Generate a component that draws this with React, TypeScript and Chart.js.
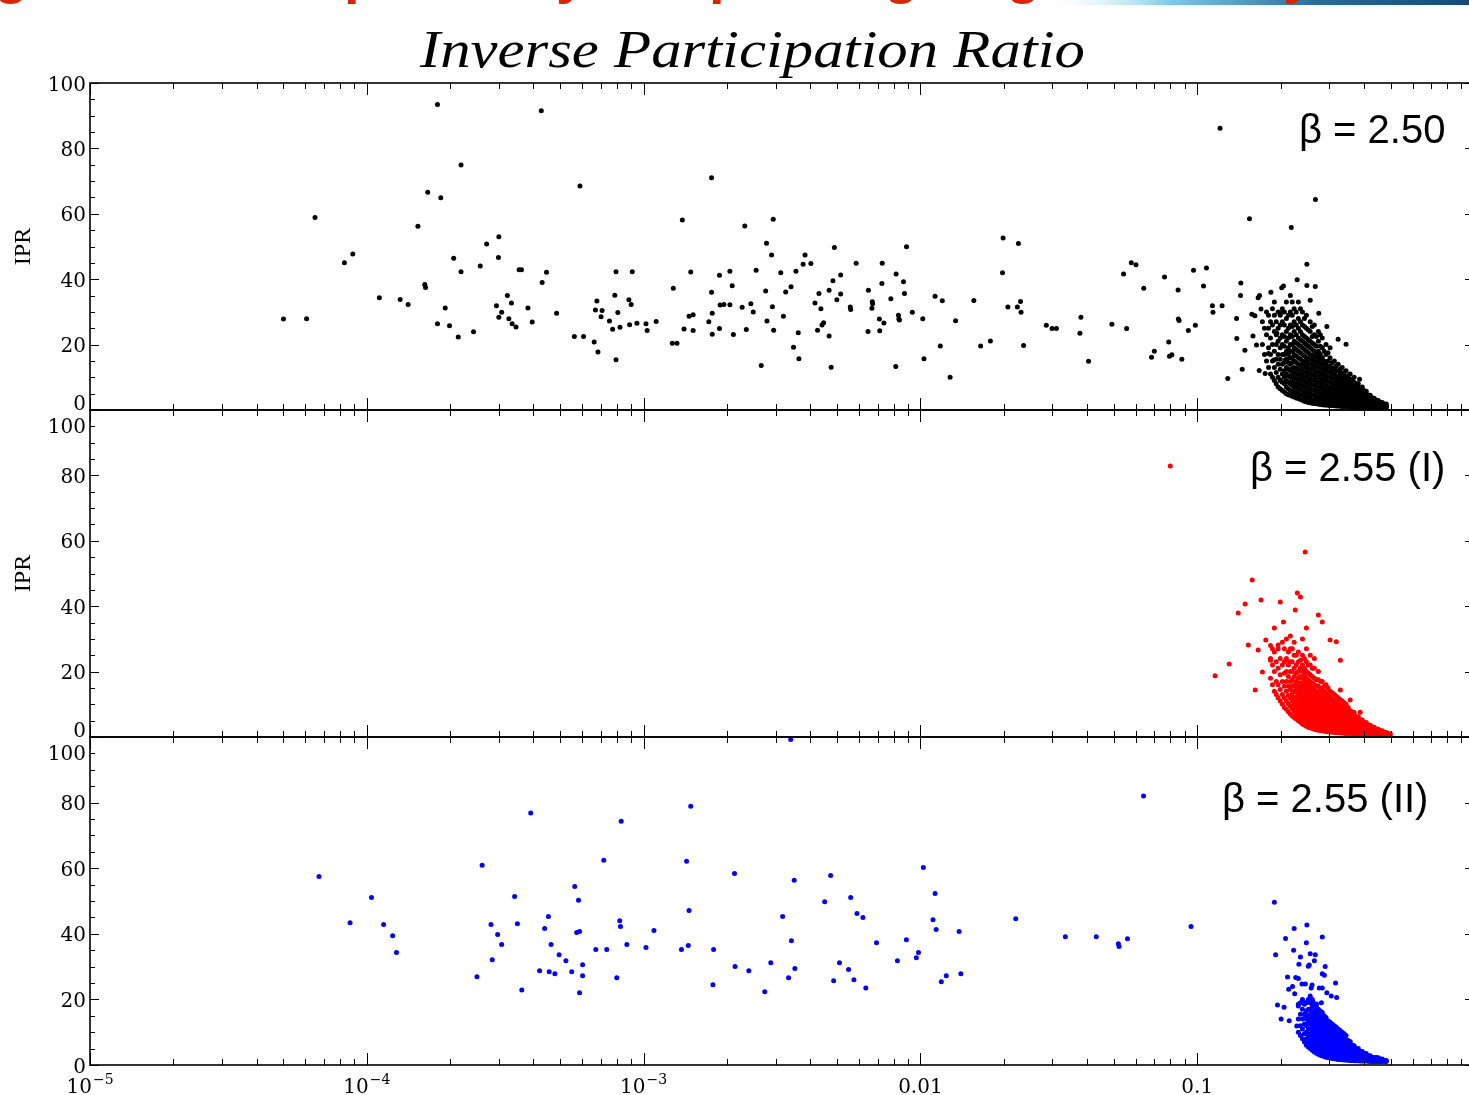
import { useEffect, useRef } from 'react';
import { Chart, registerables } from 'chart.js';
Chart.register(...registerables);

// ---------------- DATA ----------------
const xTickValues = [1e-5, 1e-4, 1e-3, 0.01, 0.1];
const xTickLabels: [string, string][] = [['10', '−5'], ['10', '−4'], ['10', '−3'], ['0.01', ''], ['0.1', '']];
const yTickValues = [0, 20, 40, 60, 80, 100];
const panelLabels = ['β = 2.50', 'β = 2.55 (I)', 'β = 2.55 (II)'];
const titleText = 'Inverse Participation Ratio';
const yAxisTitle = 'IPR';

const blackScatter: [number, number][] = [
  [5.0e-5, 27.8], [6.06e-5, 27.9], [6.5e-5, 58.9], [8.3e-5, 45.0], [8.9e-5, 47.7], [1.11e-4, 34.3], [1.32e-4, 33.8],
  [1.41e-4, 32.3], [1.53e-4, 56.2], [1.62e-4, 38.4], [1.63e-4, 37.5], [1.66e-4, 66.6], [1.80e-4, 93.4], [1.80e-4, 26.4],
  [1.85e-4, 64.9], [1.92e-4, 31.2], [1.99e-4, 25.8], [2.06e-4, 46.4], [2.14e-4, 22.3], [2.19e-4, 42.3], [2.19e-4, 74.9],
  [2.43e-4, 23.9], [2.57e-4, 44.0], [2.71e-4, 50.8], [2.94e-4, 31.9], [2.99e-4, 46.6], [3.0e-4, 53.0], [3.0e-4, 28.4],
  [3.07e-4, 29.9], [3.22e-4, 35.0], [3.26e-4, 27.9], [3.33e-4, 32.7], [3.35e-4, 26.4], [3.46e-4, 25.4], [3.55e-4, 42.9],
  [3.62e-4, 42.9], [3.82e-4, 31.2], [3.96e-4, 26.9], [4.27e-4, 91.5], [4.30e-4, 39.0], [4.46e-4, 42.1], [4.85e-4, 29.6],
  [5.62e-4, 22.5], [5.89e-4, 68.5], [6.07e-4, 22.5], [6.63e-4, 20.8], [6.7e-4, 30.6], [6.78e-4, 33.3], [6.84e-4, 17.7],
  [7.02e-4, 28.5], [7.08e-4, 30.4], [7.53e-4, 27.2], [7.73e-4, 24.7], [7.87e-4, 35.1], [7.95e-4, 42.3], [7.95e-4, 15.4],
  [8.07e-4, 29.8], [8.22e-4, 25.3], [8.85e-4, 33.7], [8.9e-4, 26.1], [9.02e-4, 32.3], [9.1e-4, 42.3], [9.46e-4, 26.5],
  [1.02e-3, 26.4], [1.03e-3, 24.3], [1.11e-3, 27.1], [1.27e-3, 20.4], [1.32e-3, 20.4], [1.28e-3, 37.2], [1.38e-3, 58.1],
  [1.40e-3, 24.8], [1.46e-3, 28.7], [1.48e-3, 42.2], [1.51e-3, 29.1], [1.51e-3, 24.3], [1.72e-3, 27.0], [1.76e-3, 71.0],
  [1.76e-3, 36.0], [1.77e-3, 29.6], [1.77e-3, 23.2], [1.88e-3, 24.9], [1.88e-3, 41.2], [1.89e-3, 32.1], [1.95e-3, 32.3],
  [2.05e-3, 32.2], [2.05e-3, 42.4], [2.09e-3, 38.0], [2.11e-3, 23.1], [2.27e-3, 31.4], [2.32e-3, 56.3], [2.35e-3, 24.6],
  [2.44e-3, 32.5], [2.49e-3, 30.0], [2.55e-3, 42.7], [2.66e-3, 13.6], [2.76e-3, 36.4], [2.78e-3, 51.0], [2.79e-3, 27.2],
  [2.90e-3, 47.4], [2.92e-3, 31.6], [2.94e-3, 58.3], [2.95e-3, 24.4], [3.13e-3, 42.0], [3.2e-3, 28.7], [3.26e-3, 36.1],
  [3.41e-3, 37.7], [3.48e-3, 19.2], [3.55e-3, 42.4], [3.62e-3, 23.6], [3.64e-3, 15.7], [3.77e-3, 44.6], [3.83e-3, 47.4],
  [4.02e-3, 44.8], [4.16e-3, 32.7], [4.25e-3, 24.4], [4.30e-3, 35.6], [4.37e-3, 31.0], [4.41e-3, 26.0], [4.47e-3, 26.7],
  [4.68e-3, 36.6], [4.68e-3, 22.6], [4.76e-3, 13.1], [4.83e-3, 39.5], [4.89e-3, 49.7], [4.99e-3, 33.7], [5.15e-3, 35.5],
  [5.15e-3, 41.3], [5.58e-3, 31.5], [5.6e-3, 30.7], [5.86e-3, 44.9], [6.47e-3, 24.0], [6.49e-3, 36.6], [6.68e-3, 31.1],
  [6.7e-3, 33.1], [6.72e-3, 32.5], [7.11e-3, 27.8], [7.13e-3, 24.2], [7.26e-3, 38.7], [7.28e-3, 44.9], [7.38e-3, 26.6],
  [7.82e-3, 34.0], [8.15e-3, 13.3], [8.17e-3, 41.6], [8.33e-3, 29.0], [8.36e-3, 27.8], [8.4e-3, 27.5], [8.69e-3, 39.2],
  [8.76e-3, 35.6], [8.91e-3, 49.9], [9.35e-3, 29.9], [1.02e-2, 27.9], [1.03e-2, 15.7], [1.13e-2, 34.8], [1.18e-2, 19.6],
  [1.20e-2, 33.4], [1.28e-2, 10.0], [1.34e-2, 27.3], [1.56e-2, 33.5], [1.65e-2, 19.6], [1.79e-2, 21.1], [1.98e-2, 42.0],
  [1.99e-2, 52.6], [2.07e-2, 31.5], [2.24e-2, 31.5], [2.26e-2, 50.9], [2.30e-2, 33.2], [2.31e-2, 29.9], [2.36e-2, 19.7],
  [2.85e-2, 25.9], [2.99e-2, 24.9], [3.10e-2, 24.9], [3.77e-2, 23.5], [3.8e-2, 28.4], [4.05e-2, 14.9], [4.92e-2, 26.2],
  [5.56e-2, 24.9], [5.42e-2, 41.6], [5.78e-2, 45.0], [6.01e-2, 44.4], [6.41e-2, 37.2], [6.84e-2, 16.1], [7.0e-2, 18.0],
  [7.62e-2, 40.7], [7.89e-2, 20.8], [7.94e-2, 16.4], [8.1e-2, 16.9], [8.53e-2, 36.7], [8.55e-2, 27.8], [8.6e-2, 27.4],
  [8.8e-2, 15.5], [9.29e-2, 24.3], [9.7e-2, 42.7], [9.85e-2, 25.9],
  [0.121, 86.2], [0.1054, 37.9], [0.108, 43.4], [0.1135, 31.9], [0.114, 29.9], [0.123, 31.9], [0.129, 9.6], [0.1387, 28.0],
  [0.139, 21.9], [0.1438, 38.8], [0.1434, 35.0], [0.1454, 12.5], [0.1487, 18.3], [0.1545, 58.5], [0.1576, 29.3],
  [0.1616, 28.8], [0.159, 22.6], [0.1638, 19.9], [0.1675, 12.1], [0.166, 34.3], [0.168, 35.0], [0.170, 30.9], [0.1846, 36.0],
  [0.202, 37.4], [0.205, 37.9], [0.2187, 55.8], [0.2297, 39.8], [0.249, 44.6], [0.2674, 64.4], [0.249, 38.1], [0.267, 37.8],
  [0.256, 33.6], [0.323, 21.6], [0.345, 20.1], [0.386, 9.4], [0.294, 25.5], [0.275, 29.6], [0.1995, 29.6], [0.194, 23.5],
  [0.189, 15.3], [0.181, 17.3], [0.176, 11.2], [0.1995, 9.2], [0.208, 15.3],
];

// dense core: [x, IPR values at that x]
const blackCloud: [number, number[]][] = [
  [0.172, [20, 27]],
  [0.178, [15, 23, 30]],
  [0.184, [11, 17, 22, 27]],
  [0.190, [9, 13, 18, 24, 29, 33]],
  [0.196, [7, 10, 14, 17, 21, 25, 30]],
  [0.203, [6, 8.5, 11, 14, 17, 20, 23, 27, 31]],
  [0.210, [5, 7, 9, 11, 13, 15.5, 18, 21, 24, 28, 33]],
  [0.217, [4.5, 6, 8, 10, 12, 14, 16, 18, 20, 23, 26, 30, 35]],
  [0.224, [4, 5.5, 7, 8.5, 10, 11.5, 13, 15, 17, 19, 21, 24, 27, 31]],
  [0.232, [3.5, 5, 6.5, 8, 9.5, 11, 12.5, 14, 16, 18, 20, 22, 25, 28, 33]],
  [0.240, [3, 4.5, 6, 7.5, 9, 10.5, 12, 13.5, 15, 17, 19, 21, 23, 26, 30]],
  [0.248, [2.5, 4, 5.5, 7, 8.5, 10, 11.5, 13, 14.5, 16, 18, 20, 22, 25, 29]],
  [0.256, [2.2, 3.5, 5, 6.5, 8, 9.5, 11, 12.5, 14, 15.5, 17, 19, 21, 24, 27]],
  [0.265, [2, 3, 4.5, 6, 7.5, 9, 10.5, 12, 13.5, 15, 16.5, 18, 20, 23, 26]],
  [0.274, [1.8, 2.8, 4, 5.5, 7, 8.5, 10, 11.5, 13, 14.5, 16, 18, 21, 24]],
  [0.283, [1.6, 2.5, 3.7, 5, 6.5, 8, 9.5, 11, 12.5, 14, 16, 19, 22]],
  [0.292, [1.5, 2.3, 3.4, 4.6, 6, 7.5, 9, 10.5, 12, 14, 17, 20]],
  [0.302, [1.4, 2.1, 3.1, 4.3, 5.6, 7, 8.5, 10, 11.5, 13.5, 16, 19]],
  [0.313, [1.3, 2, 2.9, 4, 5.2, 6.5, 8, 9.5, 11, 13, 15]],
  [0.323, [1.2, 1.9, 2.7, 3.7, 4.8, 6, 7.3, 8.7, 10.2, 12, 14]],
  [0.334, [1.1, 1.8, 2.5, 3.4, 4.4, 5.5, 6.7, 8, 9.5, 11, 13]],
  [0.345, [1.1, 1.7, 2.4, 3.2, 4.1, 5, 6.1, 7.3, 8.6, 10, 12]],
  [0.357, [1, 1.6, 2.2, 3, 3.8, 4.7, 5.7, 6.8, 8, 9.5, 11]],
  [0.369, [1, 1.5, 2.1, 2.8, 3.5, 4.3, 5.2, 6.2, 7.3, 8.5, 10]],
  [0.382, [0.9, 1.4, 2, 2.6, 3.3, 4, 4.8, 5.7, 6.7, 8]],
  [0.395, [0.9, 1.4, 1.9, 2.5, 3.1, 3.7, 4.4, 5.2, 6.2, 7]],
  [0.408, [0.8, 1.3, 1.8, 2.3, 2.9, 3.5, 4.1, 4.8, 5.7]],
  [0.422, [0.8, 1.3, 1.7, 2.2, 2.7, 3.2, 3.8, 4.5]],
  [0.436, [0.8, 1.2, 1.6, 2, 2.5, 3, 3.6]],
  [0.451, [0.7, 1.2, 1.6, 2, 2.4, 2.9]],
  [0.466, [0.7, 1.1, 1.5, 1.9, 2.3]],
  [0.482, [0.7, 1.0, 1.4, 1.8]],
  [0.175, [17, 25]],
  [0.181, [13, 19, 25, 29]],
  [0.187, [10, 15, 20, 26, 31]],
  [0.193, [8, 11.5, 15.5, 20, 23, 27]],
  [0.1995, [6.5, 9, 12.5, 15.5, 19, 22, 26, 29]],
  [0.2065, [5.5, 8, 10, 12, 14.5, 17, 19.5, 22.5, 26, 30]],
  [0.2135, [4.7, 6.5, 8.5, 10.5, 12.5, 14.5, 17, 19, 22, 25, 29]],
  [0.2205, [4.2, 5.7, 7.5, 9, 11, 12.7, 14.5, 16, 18, 20, 22.5, 25.5, 29, 33]],
  [0.228, [3.7, 5.2, 6.7, 8.2, 9.7, 11.2, 12.7, 14.5, 16.5, 18.5, 20.5, 23, 26, 30]],
  [0.236, [3.2, 4.7, 6.2, 7.7, 9.2, 10.7, 12.2, 13.7, 15.5, 17.5, 19.5, 21.5, 24, 27, 31]],
  [0.244, [2.7, 4.2, 5.7, 7.2, 8.7, 10.2, 11.7, 13.2, 14.7, 16.5, 18.5, 20.5, 22.5, 25.5, 28]],
  [0.252, [2.3, 3.7, 5.2, 6.7, 8.2, 9.7, 11.2, 12.7, 14.2, 15.7, 17.5, 19.5, 21.5, 24.5]],
  [0.2605, [2.1, 3.2, 4.7, 6.2, 7.7, 9.2, 10.7, 12.2, 13.7, 15.2, 16.7, 18.5, 20.5, 22.5, 25.5]],
  [0.2695, [1.9, 2.9, 4.2, 5.7, 7.2, 8.7, 10.2, 11.7, 13.2, 14.7, 16.2, 17.5, 19.5, 22.5]],
  [0.2785, [1.7, 2.6, 3.8, 5.2, 6.7, 8.2, 9.7, 11.2, 12.7, 14.2, 15.5, 17, 19.5, 23]],
  [0.2875, [1.55, 2.4, 3.5, 4.8, 6.2, 7.7, 9.2, 10.7, 12.2, 13.5, 15, 18]],
  [0.297, [1.45, 2.2, 3.2, 4.4, 5.8, 7.2, 8.7, 10.2, 11.7, 13, 15, 17.5]],
  [0.3075, [1.35, 2.05, 3, 4.1, 5.4, 6.7, 8.2, 9.7, 11.2, 12.5, 14.5]],
  [0.318, [1.25, 1.95, 2.8, 3.85, 5, 6.2, 7.6, 9, 10.5, 12, 13.5]],
  [0.3285, [1.15, 1.85, 2.6, 3.55, 4.6, 5.7, 7, 8.3, 9.8, 11.3, 12.5]],
  [0.3395, [1.1, 1.75, 2.45, 3.3, 4.25, 5.25, 6.4, 7.6, 9, 10.3, 11.5]],
  [0.351, [1.05, 1.65, 2.3, 3.1, 3.95, 4.85, 5.9, 7, 8.3, 9.7, 10.5]],
  [0.363, [1, 1.55, 2.15, 2.9, 3.65, 4.5, 5.45, 6.5, 7.6, 9]],
  [0.3755, [0.95, 1.45, 2.05, 2.7, 3.4, 4.15, 5, 5.95, 7, 8]],
  [0.3885, [0.9, 1.4, 1.95, 2.55, 3.2, 3.85, 4.6, 5.45, 6.4]],
  [0.4015, [0.85, 1.35, 1.85, 2.4, 3, 3.6, 4.25, 5, 5.9]],
  [0.415, [0.8, 1.3, 1.75, 2.25, 2.8, 3.35, 3.95, 4.6]],
  [0.429, [0.8, 1.25, 1.65, 2.1, 2.6, 3.1, 3.7]],
  [0.4435, [0.75, 1.2, 1.6, 2, 2.45, 2.95]],
  [0.4585, [0.7, 1.15, 1.55, 1.95, 2.35]],
  [0.474, [0.7, 1.05, 1.45, 1.85]],
];

const redScatter: [number, number][] = [
  [0.0799, 82.9], [0.116, 18.7], [0.1305, 22.3], [0.1406, 37.9], [0.149, 40.7], [0.158, 48.0], [0.170, 41.9],
  [0.1995, 41.3], [0.230, 44.0], [0.236, 42.8], [0.2455, 56.6], [0.205, 35.2], [0.19, 33.3], [0.177, 29.7],
  [0.166, 26.6], [0.184, 23.5], [0.172, 19.9], [0.196, 28.1], [0.217, 30.9], [0.248, 33.3], [0.274, 37.3],
  [0.283, 35.2], [0.302, 29.7], [0.318, 29.1], [0.329, 23.5], [0.329, 14.4], [0.357, 11.3], [0.388, 7.6],
  [0.162, 14.4], [0.153, 28.1], [0.21, 23.5], [0.226, 38.8],
];

const redCloud: [number, number[]][] = [
  [0.184, [18, 24, 28]],
  [0.190, [14, 20, 26]],
  [0.196, [12, 16, 21, 27]],
  [0.203, [10, 13, 17, 22, 29]],
  [0.210, [8.5, 11, 14, 17, 20, 24, 30]],
  [0.217, [7, 9.5, 12, 14.5, 17, 20, 23, 27]],
  [0.224, [6, 8, 10, 12, 14, 16, 18.5, 21, 25, 29]],
  [0.232, [5, 6.5, 8, 9.5, 11, 12.5, 14, 16, 18, 20, 23, 26]],
  [0.240, [4, 5.5, 7, 8.5, 10, 11.5, 13, 14.5, 16, 18, 20, 22, 25, 30]],
  [0.248, [3.3, 4.7, 6, 7.5, 9, 10.5, 12, 13.5, 15, 16.5, 18, 20, 23, 27]],
  [0.256, [2.8, 4, 5.3, 6.7, 8, 9.5, 11, 12.5, 14, 15.5, 17, 19, 22, 25]],
  [0.265, [2.4, 3.5, 4.7, 6, 7.3, 8.7, 10, 11.5, 13, 14.5, 16, 18, 21, 24]],
  [0.274, [2.1, 3.1, 4.2, 5.4, 6.6, 8, 9.4, 10.8, 12.2, 13.7, 15.5, 17.5, 20]],
  [0.283, [1.9, 2.8, 3.8, 4.9, 6, 7.2, 8.5, 9.8, 11.2, 12.7, 14.5, 17]],
  [0.292, [1.7, 2.5, 3.4, 4.4, 5.5, 6.6, 7.8, 9, 10.3, 11.8, 13.5, 16]],
  [0.302, [1.5, 2.3, 3.1, 4, 5, 6, 7.1, 8.2, 9.4, 10.7, 12.2, 14]],
  [0.313, [1.4, 2.1, 2.9, 3.7, 4.6, 5.5, 6.5, 7.5, 8.6, 9.8, 11.2, 13]],
  [0.323, [1.3, 2, 2.7, 3.4, 4.2, 5, 5.9, 6.8, 7.8, 8.9, 10.2, 12]],
  [0.334, [1.2, 1.8, 2.5, 3.2, 3.9, 4.7, 5.5, 6.3, 7.2, 8.2, 9.3, 11]],
  [0.345, [1.1, 1.7, 2.3, 3, 3.6, 4.3, 5, 5.8, 6.6, 7.5, 8.5, 10]],
  [0.357, [1.1, 1.6, 2.2, 2.8, 3.4, 4, 4.7, 5.4, 6.1, 7, 8]],
  [0.369, [1, 1.5, 2.1, 2.6, 3.2, 3.8, 4.4, 5, 5.7, 6.5, 7.5]],
  [0.382, [1, 1.5, 2, 2.5, 3, 3.5, 4.1, 4.7, 5.4, 6.2]],
  [0.395, [0.9, 1.4, 1.9, 2.4, 2.9, 3.4, 3.9, 4.5, 5.2]],
  [0.408, [0.9, 1.3, 1.8, 2.3, 2.8, 3.3, 3.8, 4.4]],
  [0.422, [0.8, 1.3, 1.7, 2.2, 2.6, 3.1, 3.6]],
  [0.436, [0.8, 1.2, 1.6, 2.1, 2.5, 3]],
  [0.451, [0.8, 1.2, 1.6, 2, 2.4]],
  [0.466, [0.7, 1.1, 1.5, 1.9]],
  [0.482, [0.7, 1.1, 1.4]],
  [0.498, [0.7, 1.0]],
  [0.187, [16, 22, 27]],
  [0.193, [13, 17, 23]],
  [0.1995, [11, 14.5, 19, 24]],
  [0.2065, [9, 12, 15.5, 19.5, 23, 27]],
  [0.2135, [7.7, 10.2, 12.7, 15.5, 18.5, 22, 26]],
  [0.2205, [6.5, 8.7, 11, 13.2, 15.5, 17.5, 20, 23, 27]],
  [0.228, [5.5, 7.2, 9, 10.7, 12.2, 13.7, 15.2, 17, 19.5, 22, 25]],
  [0.236, [4.5, 6, 7.5, 9, 10.5, 12, 13.5, 15, 16.5, 18.5, 21, 23.5]],
  [0.244, [3.7, 5.1, 6.5, 8, 9.5, 11, 12.5, 14, 15.5, 17, 19, 21, 24]],
  [0.252, [3, 4.3, 5.6, 7.1, 8.5, 10, 11.5, 13, 14.5, 16, 17.5, 19.5, 22]],
  [0.2605, [2.6, 3.7, 5, 6.3, 7.6, 9, 10.5, 12, 13.5, 15, 16.5, 18.5, 21]],
  [0.2695, [2.2, 3.3, 4.4, 5.7, 7, 8.3, 9.7, 11.1, 12.6, 14.1, 15.7, 17.5]],
  [0.2785, [2, 2.9, 4, 5.1, 6.3, 7.6, 8.9, 10.3, 11.7, 13.2, 15, 17]],
  [0.2875, [1.8, 2.6, 3.6, 4.6, 5.7, 6.9, 8.1, 9.4, 10.7, 12.2, 14, 15.5]],
  [0.297, [1.6, 2.4, 3.2, 4.2, 5.2, 6.3, 7.4, 8.6, 9.8, 11.2, 12.8, 15]],
  [0.3075, [1.45, 2.2, 3, 3.85, 4.8, 5.75, 6.8, 7.85, 9, 10.2, 11.7, 13.5]],
  [0.318, [1.35, 2.05, 2.8, 3.55, 4.4, 5.25, 6.2, 7.15, 8.2, 9.35, 10.7, 12.5]],
  [0.3285, [1.25, 1.9, 2.6, 3.3, 4.05, 4.85, 5.7, 6.55, 7.5, 8.55, 9.7, 11.5]],
  [0.3395, [1.15, 1.75, 2.4, 3.1, 3.75, 4.5, 5.25, 6.05, 6.9, 7.85, 8.9, 10.5]],
  [0.351, [1.1, 1.65, 2.25, 2.9, 3.5, 4.15, 4.85, 5.6, 6.35, 7.25, 8.2, 9]],
  [0.363, [1.05, 1.55, 2.15, 2.7, 3.3, 3.9, 4.55, 5.2, 5.9, 6.75, 7.7]],
  [0.3755, [1, 1.5, 2.05, 2.55, 3.1, 3.65, 4.25, 4.85, 5.55, 6.3]],
  [0.3885, [0.95, 1.45, 1.95, 2.45, 2.95, 3.45, 4, 4.6, 5.3]],
  [0.4015, [0.9, 1.35, 1.85, 2.35, 2.85, 3.35, 3.85, 4.45]],
  [0.415, [0.85, 1.3, 1.75, 2.25, 2.7, 3.2, 3.7]],
  [0.429, [0.8, 1.25, 1.65, 2.15, 2.55, 3.05]],
  [0.4435, [0.8, 1.2, 1.6, 2.05, 2.45]],
  [0.4585, [0.75, 1.15, 1.55, 1.95]],
  [0.474, [0.7, 1.1, 1.45]],
  [0.49, [0.7, 1.05]],
];

const blueScatter: [number, number][] = [
  [6.72e-5, 57.5], [8.7e-5, 43.4], [1.04e-4, 51.1], [1.15e-4, 42.8], [1.24e-4, 39.4], [1.28e-4, 34.3], [2.50e-4, 26.9],
  [2.61e-4, 60.9], [2.81e-4, 42.8], [2.84e-4, 32.1], [2.97e-4, 39.8], [3.07e-4, 36.7], [3.42e-4, 51.4], [3.5e-4, 43.1],
  [3.63e-4, 22.9], [3.91e-4, 76.8], [4.21e-4, 28.7], [4.39e-4, 41.6], [4.53e-4, 45.3], [4.56e-4, 28.4], [4.63e-4, 36.7],
  [4.78e-4, 27.8], [4.95e-4, 33.6], [5.24e-4, 31.8], [5.5e-4, 28.4], [5.64e-4, 54.4], [5.73e-4, 40.4], [5.87e-4, 40.7],
  [5.82e-4, 50.2], [5.87e-4, 22.0], [6.02e-4, 30.6], [6.02e-4, 27.2], [6.72e-4, 35.2], [7.18e-4, 62.4], [7.36e-4, 35.2],
  [8.0e-4, 26.6], [8.2e-4, 44.0], [8.3e-4, 74.3], [8.25e-4, 42.2], [8.7e-4, 36.7], [1.02e-3, 35.8], [1.09e-3, 41.0],
  [1.37e-3, 35.2], [1.43e-3, 62.1], [1.45e-3, 36.4], [1.46e-3, 47.1], [1.48e-3, 78.9], [1.78e-3, 24.5], [1.79e-3, 35.2],
  [2.13e-3, 58.4], [2.14e-3, 30.0], [2.40e-3, 28.7], [2.74e-3, 22.3], [2.88e-3, 31.2], [3.18e-3, 45.3], [3.34e-3, 26.6],
  [3.42e-3, 37.9], [3.5e-3, 56.3], [3.52e-3, 29.4], [3.4e-3, 99.2], [4.51e-3, 49.8], [4.74e-3, 57.8], [4.86e-3, 25.7],
  [5.1e-3, 31.2], [5.5e-3, 29.1], [5.6e-3, 51.1], [5.75e-3, 26.0], [5.9e-3, 46.2], [6.2e-3, 45.0], [6.35e-3, 23.5],
  [6.94e-3, 37.3], [8.26e-3, 31.8], [8.9e-3, 38.2], [9.67e-3, 32.7], [9.84e-3, 34.3], [1.025e-2, 60.2], [1.11e-2, 44.3],
  [1.13e-2, 52.3], [1.14e-2, 41.3], [1.19e-2, 25.4], [1.24e-2, 27.2], [1.38e-2, 40.7], [1.40e-2, 27.8], [2.21e-2, 44.6],
  [3.34e-2, 39.1], [4.32e-2, 39.1], [5.19e-2, 37.0], [5.22e-2, 36.1], [5.6e-2, 38.5], [6.4e-2, 82.0], [9.5e-2, 42.2],
  [0.190, 49.6], [0.224, 41.6], [0.249, 42.7], [0.2085, 38.6], [0.283, 39.0], [0.248, 37.3], [0.192, 33.6], [0.223, 35.0],
  [0.256, 33.9], [0.267, 33.6], [0.236, 32.9], [0.265, 31.8], [0.233, 30.7], [0.252, 30.1], [0.254, 30.5], [0.290, 30.0],
  [0.288, 27.4], [0.283, 27.8], [0.212, 26.8], [0.227, 26.7], [0.232, 26.4], [0.214, 23.1], [0.221, 23.9], [0.225, 21.7],
  [0.239, 24.7], [0.246, 24.7], [0.260, 24.4], [0.258, 23.5], [0.276, 23.5], [0.283, 23.5], [0.316, 25.0], [0.294, 22.0],
  [0.305, 21.0], [0.319, 20.6], [0.195, 18.3], [0.206, 17.6], [0.201, 14.0], [0.215, 13.5], [0.229, 11.9], [0.232, 18.5],
  [0.245, 19.0], [0.262, 19.3], [0.270, 18.6], [0.281, 19.0], [0.246, 15.2], [0.256, 14.8],
];

const blueCloud: [number, number[]][] = [
  [0.232, [10, 14, 18]],
  [0.240, [8, 11, 14, 17, 20]],
  [0.248, [6, 8, 10, 12, 14, 16.5, 19]],
  [0.256, [5, 6.5, 8, 9.5, 11, 12.5, 14, 15.5, 17, 19, 21]],
  [0.265, [4, 5.3, 6.6, 8, 9.4, 10.8, 12.2, 13.6, 15, 16.5, 18]],
  [0.274, [3.3, 4.5, 5.7, 7, 8.3, 9.6, 11, 12.4, 13.8, 15.3, 17]],
  [0.283, [2.8, 3.9, 5, 6.2, 7.4, 8.6, 9.9, 11.2, 12.6, 14, 16]],
  [0.292, [2.4, 3.4, 4.4, 5.5, 6.6, 7.7, 8.9, 10.1, 11.4, 12.8, 14.5]],
  [0.302, [2.1, 3, 3.9, 4.9, 5.9, 6.9, 8, 9.1, 10.3, 11.6, 13]],
  [0.313, [1.9, 2.7, 3.5, 4.4, 5.3, 6.2, 7.2, 8.2, 9.3, 10.5, 12]],
  [0.323, [1.7, 2.4, 3.2, 4, 4.8, 5.6, 6.5, 7.4, 8.4, 9.5, 11]],
  [0.334, [1.6, 2.2, 2.9, 3.6, 4.3, 5.1, 5.9, 6.7, 7.6, 8.6, 10]],
  [0.345, [1.5, 2.1, 2.7, 3.3, 4, 4.7, 5.4, 6.1, 6.9, 7.8, 9]],
  [0.357, [1.4, 1.9, 2.5, 3.1, 3.7, 4.3, 4.9, 5.6, 6.3, 7.2]],
  [0.369, [1.3, 1.8, 2.3, 2.8, 3.4, 4, 4.6, 5.2, 5.9]],
  [0.382, [1.3, 1.7, 2.2, 2.7, 3.2, 3.7, 4.3, 5]],
  [0.395, [1.2, 1.6, 2.1, 2.5, 3, 3.5, 4.1]],
  [0.408, [1.2, 1.6, 2, 2.4, 2.9, 3.5]],
  [0.422, [1.1, 1.5, 1.9, 2.3, 2.8]],
  [0.436, [1.1, 1.5, 1.9, 2.3]],
  [0.451, [1.1, 1.4, 1.8, 2.2]],
  [0.466, [1.1, 1.4, 1.8]],
  [0.482, [1.1, 1.4]],
  [0.236, [9, 12, 15.5, 19]],
  [0.244, [7, 9.5, 12.5, 15.5, 18.5]],
  [0.252, [5.5, 7.2, 9, 11, 13, 15, 17, 20]],
  [0.2605, [4.5, 5.9, 7.3, 8.7, 10.2, 11.6, 13, 14.5, 16, 17.8, 20]],
  [0.2695, [3.6, 4.9, 6.1, 7.5, 8.8, 10.2, 11.6, 13, 14.4, 15.9, 17.5]],
  [0.2785, [3, 4.2, 5.3, 6.6, 7.8, 9.1, 10.4, 11.8, 13.2, 14.6, 16.5]],
  [0.2875, [2.6, 3.6, 4.7, 5.8, 7, 8.1, 9.4, 10.6, 12, 13.4, 15]],
  [0.297, [2.25, 3.2, 4.15, 5.2, 6.25, 7.3, 8.45, 9.6, 10.8, 12.2, 13.5]],
  [0.3075, [2, 2.85, 3.7, 4.65, 5.6, 6.55, 7.6, 8.65, 9.8, 11, 12.5]],
  [0.318, [1.8, 2.55, 3.35, 4.2, 5.05, 5.9, 6.85, 7.8, 8.85, 10, 11.5]],
  [0.3285, [1.65, 2.3, 3.05, 3.8, 4.55, 5.35, 6.2, 7.05, 8, 9, 10.5]],
  [0.3395, [1.55, 2.15, 2.8, 3.45, 4.15, 4.9, 5.65, 6.4, 7.25, 8.2, 9.5]],
  [0.351, [1.45, 2, 2.6, 3.2, 3.85, 4.5, 5.15, 5.85, 6.6, 7.5]],
  [0.363, [1.35, 1.85, 2.4, 2.95, 3.55, 4.15, 4.75, 5.4, 6.1]],
  [0.3755, [1.3, 1.75, 2.25, 2.75, 3.3, 3.85, 4.45, 5.1]],
  [0.3885, [1.25, 1.65, 2.15, 2.6, 3.1, 3.6, 4.2]],
  [0.4015, [1.2, 1.6, 2.05, 2.45, 2.95, 3.5]],
  [0.415, [1.15, 1.55, 1.95, 2.35, 2.85]],
  [0.429, [1.1, 1.5, 1.9, 2.3]],
  [0.4435, [1.1, 1.45, 1.85, 2.25]],
  [0.4585, [1.1, 1.4, 1.8]],
  [0.474, [1.1, 1.4]],
];

// ---------------- LAYOUT / STYLE ----------------
const W = 1480;
const H = 1095;
const PLOT_LEFT = 90;
const PLOT_RIGHT = 1474;

type Panel = {
  top: number; bottom: number; color: string;
  scatter: [number, number][]; cloud: [number, number[]][];
  label: string; labelX: number; labelY: number;
  ipr: boolean; xLabels: boolean; header: boolean;
  zeroUp: boolean; hundredDown: boolean;
};

const PANELS: Panel[] = [
  { top: 83, bottom: 410, color: '#000000', scatter: blackScatter, cloud: blackCloud, label: panelLabels[0],
    labelX: 1299, labelY: 143, ipr: true, xLabels: false, header: true, zeroUp: true, hundredDown: false },
  { top: 410, bottom: 737, color: '#ff0000', scatter: redScatter, cloud: redCloud, label: panelLabels[1],
    labelX: 1250, labelY: 481, ipr: true, xLabels: false, header: false, zeroUp: true, hundredDown: true },
  { top: 737, bottom: 1065, color: '#0000ff', scatter: blueScatter, cloud: blueCloud, label: panelLabels[2],
    labelX: 1222, labelY: 812, ipr: false, xLabels: true, header: false, zeroUp: false, hundredDown: true },
];

function seg(ctx: CanvasRenderingContext2D, x1: number, y1: number, x2: number, y2: number) {
  ctx.beginPath();
  ctx.moveTo(x1, y1);
  ctx.lineTo(x2, y2);
  ctx.stroke();
}

function makeDecor(p: Panel) {
  return {
    id: 'decor',
    afterDraw(chart: any) {
      const ctx: CanvasRenderingContext2D = chart.ctx;
      const a = chart.chartArea;
      const xs = chart.scales.x;
      const ys = chart.scales.y;
      ctx.save();
      ctx.strokeStyle = '#000';
      ctx.fillStyle = '#000';

      // frame
      ctx.lineWidth = 1.6;
      ctx.strokeRect(a.left, a.top, a.right - a.left, a.bottom - a.top);

      // y ticks (major every 20, minor every 5), inward on both sides
      ctx.lineWidth = 1;
      for (let v = 0; v <= 100; v += 5) {
        const y = Math.round(ys.getPixelForValue(v)) + 0.5;
        const len = v % 20 === 0 ? 9 : 5;
        seg(ctx, a.left, y, a.left + len, y);
        seg(ctx, a.right, y, a.right - len, y);
      }
      // x ticks (decades major, 2..9 minor), inward top and bottom
      for (let e = -5; e <= 0; e++) {
        for (let m = 1; m <= 9; m++) {
          const v = m * Math.pow(10, e);
          if (v > 1.0001) break;
          const x = Math.round(xs.getPixelForValue(v)) + 0.5;
          const len = m === 1 ? 12 : 6;
          seg(ctx, x, a.bottom, x, a.bottom - len);
          seg(ctx, x, a.top, x, a.top + len);
        }
      }

      // y tick labels
      ctx.font = '20px "DejaVu Serif"';
      ctx.textAlign = 'right';
      ctx.textBaseline = 'alphabetic';
      for (const v of yTickValues) {
        const y = ys.getPixelForValue(v);
        let base = y + 7.5;
        if (v === 0 && p.zeroUp) base = y - 0.5;
        if (v === 100 && p.hundredDown) base = y + 23;
        ctx.fillText(String(v), 86, base);
      }

      // y axis title
      if (p.ipr) {
        ctx.save();
        ctx.translate(30, (a.top + a.bottom) / 2);
        ctx.rotate(-Math.PI / 2);
        ctx.font = '24px "Liberation Serif"';
        ctx.textAlign = 'center';
        ctx.textBaseline = 'alphabetic';
        ctx.fillText(yAxisTitle, 0, 0);
        ctx.restore();
      }

      // x tick labels
      if (p.xLabels) {
        xTickValues.forEach((v, i) => {
          const x = xs.getPixelForValue(v);
          const [base, sup] = xTickLabels[i];
          ctx.font = '20px "DejaVu Serif"';
          const wb = ctx.measureText(base).width;
          ctx.font = '14px "DejaVu Serif"';
          const ws = sup ? ctx.measureText(sup).width + 1 : 0;
          const left = x - (wb + ws) / 2;
          ctx.textAlign = 'left';
          ctx.font = '20px "DejaVu Serif"';
          ctx.fillText(base, left, a.bottom + 28);
          if (sup) {
            ctx.font = '14px "DejaVu Serif"';
            ctx.fillText(sup, left + wb + 1, a.bottom + 19);
          }
        });
      }

      // panel label
      ctx.font = '40px "Liberation Sans"';
      ctx.textAlign = 'left';
      ctx.fillText(p.label, p.labelX, p.labelY);

      // header + title
      if (p.header) {
        const g = ctx.createLinearGradient(1040, 0, 1469, 0);
        g.addColorStop(0, 'rgba(255,255,255,0)');
        g.addColorStop(0.3, '#7ecbe8');
        g.addColorStop(0.65, '#2a6a98');
        g.addColorStop(1, '#13497a');
        ctx.fillStyle = g;
        ctx.fillRect(1040, 0, 440, 5);

        ctx.fillStyle = '#dd2200';
        ctx.font = 'bold 56px "Liberation Sans"';
        ctx.textAlign = 'left';
        const glyphs: [string, number][] = [['g', -6], ['p', 344], ['y', 556], ['p', 709], ['g', 884], ['g', 1006], ['y', 1283]];
        for (const [ch, gx] of glyphs) ctx.fillText(ch, gx, -8);

        ctx.fillStyle = '#000';
        ctx.font = 'italic 53px "Liberation Serif"';
        const tw = ctx.measureText(titleText).width;
        const sx = 665 / tw;
        ctx.save();
        ctx.translate(752.5, 67);
        ctx.scale(sx, 1);
        ctx.textAlign = 'center';
        ctx.fillText(titleText, 0, 0);
        ctx.restore();
      }
      ctx.restore();
    },
  };
}

function makeConfig(p: Panel): any {
  const points = [
    ...p.scatter.map(([x, y]) => ({ x, y })),
    ...p.cloud.flatMap(([x, ys]) => ys.map((y) => ({ x, y }))),
  ];
  return {
    type: 'scatter',
    data: {
      datasets: [{
        data: points,
        backgroundColor: p.color,
        borderWidth: 0,
        pointRadius: 2.5,
        pointHoverRadius: 2.5,
      }],
    },
    options: {
      animation: false,
      responsive: false,
      events: [],
      layout: { padding: { left: PLOT_LEFT, right: W - PLOT_RIGHT, top: p.top, bottom: H - p.bottom } },
      plugins: { legend: { display: false }, tooltip: { enabled: false }, title: { display: false } },
      scales: {
        x: { type: 'logarithmic', min: 1e-5, max: 1, display: false },
        y: { type: 'linear', min: 0, max: 100, display: false },
      },
    },
    plugins: [makeDecor(p)],
  };
}

function PanelChart({ panel }: { panel: Panel }) {
  const ref = useRef<HTMLCanvasElement>(null);
  useEffect(() => {
    const chart = new Chart(ref.current as HTMLCanvasElement, makeConfig(panel));
    return () => chart.destroy();
  }, [panel]);
  return (
    <canvas
      ref={ref}
      width={W}
      height={H}
      style={{ position: 'absolute', left: 0, top: 0, width: W, height: H }}
    />
  );
}

export default function App() {
  return (
    <div style={{ position: 'fixed', left: 0, top: 0, width: 1469, height: 1095, overflow: 'hidden', background: '#fff' }}>
      {PANELS.map((p, i) => (
        <PanelChart key={i} panel={p} />
      ))}
    </div>
  );
}
